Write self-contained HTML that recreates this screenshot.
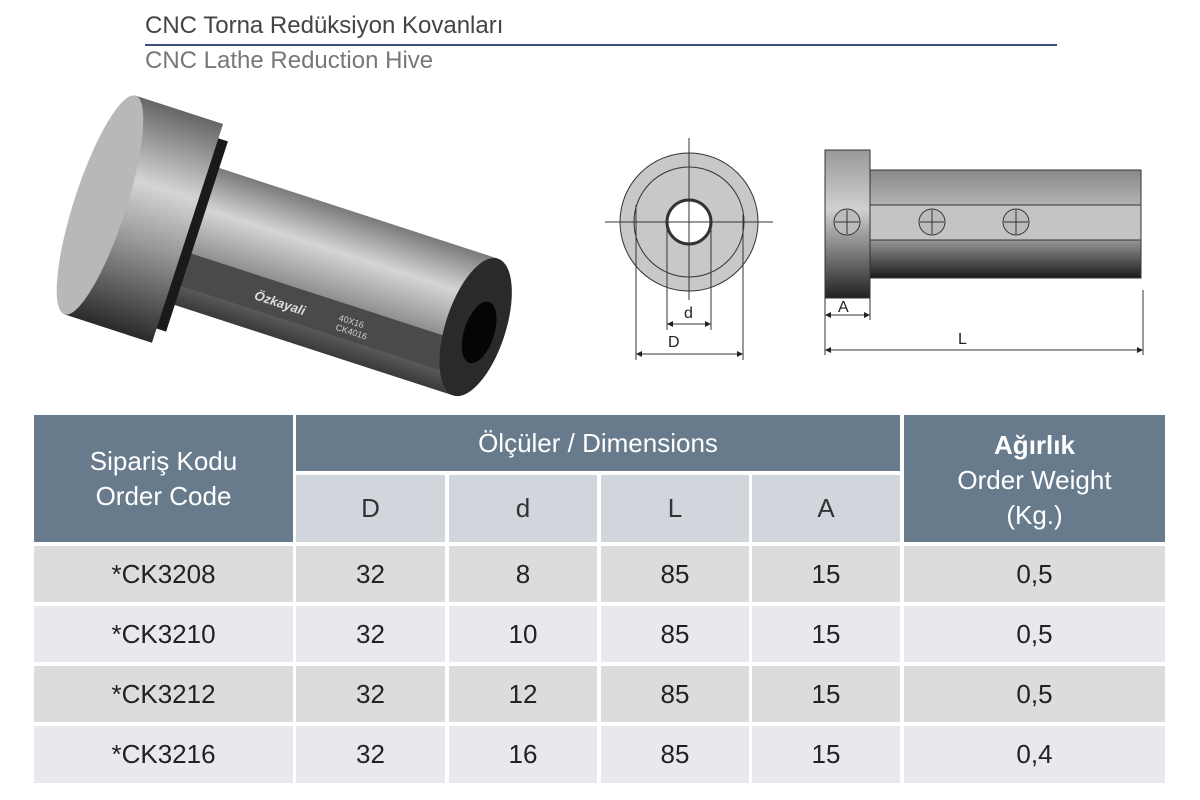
<!DOCTYPE html>
<html><head><meta charset="utf-8"><style>
*{margin:0;padding:0;box-sizing:border-box}
body{width:1200px;height:800px;background:#fff;position:relative;overflow:hidden;font-family:"Liberation Sans",sans-serif}
.c{position:absolute;display:flex;align-items:center;justify-content:center;text-align:center;color:#222;font-size:26px}
.h{background:#687b8c;color:#fff}
.s{background:#d1d5dc;color:#333}
.r1{background:#dcdcdc}
.r2{background:#e8e9ee}
</style></head><body>
<div style="position:absolute;left:145px;top:12px;font-size:24px;color:#444;">CNC Torna Redüksiyon Kovanları</div>
<div style="position:absolute;left:145px;top:44px;width:912px;height:2px;background:#3d4f7a"></div>
<div style="position:absolute;left:145px;top:47px;font-size:24px;color:#777;font-weight:300">CNC Lathe Reduction Hive</div>

<svg style="position:absolute;left:0;top:0" width="1200" height="410">
<defs>
<linearGradient id="gb" x1="0" y1="0" x2="0" y2="1">
<stop offset="0" stop-color="#7a7a7a"/><stop offset="0.3" stop-color="#d5d5d5"/><stop offset="0.55" stop-color="#a0a0a0"/><stop offset="1" stop-color="#3a3a3a"/></linearGradient>
<linearGradient id="gc" x1="0" y1="0" x2="0" y2="1">
<stop offset="0" stop-color="#666"/><stop offset="0.35" stop-color="#d5d5d5"/><stop offset="0.6" stop-color="#999"/><stop offset="1" stop-color="#2a2a2a"/></linearGradient>
<linearGradient id="gs" x1="0" y1="0" x2="0" y2="1">
<stop offset="0" stop-color="#999"/><stop offset="0.4" stop-color="#d0d0d0"/><stop offset="1" stop-color="#222"/></linearGradient>
<linearGradient id="gs2" x1="0" y1="0" x2="0" y2="1">
<stop offset="0" stop-color="#888"/><stop offset="0.5" stop-color="#ccc"/><stop offset="1" stop-color="#1a1a1a"/></linearGradient>
<marker id="ar" viewBox="0 0 10 10" refX="10" refY="5" markerWidth="8" markerHeight="6" orient="auto-start-reverse"><path d="M0 0L10 5L0 10z" fill="#222"/></marker>
</defs>
<!-- product photo -->
<g transform="translate(100,205) rotate(18)">
<rect x="100" y="-72" width="295" height="144" fill="url(#gb)"/>
<rect x="100" y="18" width="295" height="34" fill="#4a4a4a"/>
<ellipse cx="395" cy="0" rx="30" ry="72" fill="#2a2a2a"/>
<ellipse cx="400" cy="4" rx="15" ry="32" fill="#050505"/>
<rect x="90" y="-100" width="12" height="200" fill="#1a1a1a"/>
<rect x="0" y="-115" width="92" height="230" fill="url(#gc)"/>
<ellipse cx="0" cy="0" rx="26" ry="115" fill="#b8b8b8"/>
<text x="175" y="42" font-size="13" fill="#ddd" font-weight="bold" font-style="italic">Özkayali</text>
<text x="262" y="36" font-size="9" fill="#ccc">40X16</text>
<text x="262" y="46" font-size="9" fill="#ccc">CK4016</text>
</g>
<!-- front view -->
<g stroke="#333" stroke-width="1" fill="none">
<circle cx="689" cy="222" r="69" fill="#c8c8c8"/>
<circle cx="689" cy="222" r="55"/>
<circle cx="689" cy="222" r="22" fill="#fff" stroke-width="3"/>
<line x1="689" y1="138" x2="689" y2="300"/><line x1="605" y1="222" x2="773" y2="222"/>
<line x1="667" y1="222" x2="667" y2="330"/><line x1="711" y1="222" x2="711" y2="330"/>
<line x1="667" y1="324" x2="711" y2="324" marker-start="url(#ar)" marker-end="url(#ar)"/>
<line x1="636" y1="205" x2="636" y2="360"/><line x1="743" y1="215" x2="743" y2="360"/>
<line x1="636" y1="354" x2="743" y2="354" marker-start="url(#ar)" marker-end="url(#ar)"/>
<!-- side view -->
<rect x="825" y="170" width="316" height="108" fill="url(#gs2)"/>
<rect x="870" y="205" width="271" height="35" fill="#c4c4c4"/>
<rect x="825" y="150" width="45" height="148" fill="url(#gs)"/>
<circle cx="847" cy="222" r="13" fill="#bbb"/><circle cx="932" cy="222" r="13" fill="#bbb"/><circle cx="1016" cy="222" r="13" fill="#bbb"/>
<path d="M847 210v24M835 222h24M932 210v24M920 222h24M1016 210v24M1004 222h24"/>
<line x1="825" y1="298" x2="825" y2="355"/><line x1="870" y1="298" x2="870" y2="320"/><line x1="1143" y1="290" x2="1143" y2="355"/>
<line x1="825" y1="315" x2="870" y2="315" marker-start="url(#ar)" marker-end="url(#ar)"/><line x1="825" y1="350" x2="1143" y2="350" marker-start="url(#ar)" marker-end="url(#ar)"/>
</g>
<g fill="#222" font-size="16">
<text x="684" y="318">d</text><text x="668" y="347">D</text><text x="838" y="312">A</text><text x="958" y="344">L</text>
</g>
</svg>

<div class="c h" style="left:34px;top:415px;width:259px;height:127px;flex-direction:column;line-height:35px">Sipariş Kodu<br>Order Code</div>
<div class="c h" style="left:296px;top:415px;width:604px;height:56px">Ölçüler / Dimensions</div>
<div class="c h" style="left:904px;top:415px;width:261px;height:127px;line-height:35px;padding-top:4px"><span><b>Ağırlık</b><br>Order Weight<br>(Kg.)</span></div>
<div class="c s" style="left:296px;top:475px;width:149px;height:67px">D</div>
<div class="c s" style="left:449px;top:475px;width:148px;height:67px">d</div>
<div class="c s" style="left:601px;top:475px;width:148px;height:67px">L</div>
<div class="c s" style="left:752px;top:475px;width:148px;height:67px">A</div>

<div class="c r1" style="left:34px;top:546px;width:259px;height:56px">*CK3208</div>
<div class="c r1" style="left:296px;top:546px;width:149px;height:56px">32</div>
<div class="c r1" style="left:449px;top:546px;width:148px;height:56px">8</div>
<div class="c r1" style="left:601px;top:546px;width:148px;height:56px">85</div>
<div class="c r1" style="left:752px;top:546px;width:148px;height:56px">15</div>
<div class="c r1" style="left:904px;top:546px;width:261px;height:56px">0,5</div>

<div class="c r2" style="left:34px;top:606px;width:259px;height:56px">*CK3210</div>
<div class="c r2" style="left:296px;top:606px;width:149px;height:56px">32</div>
<div class="c r2" style="left:449px;top:606px;width:148px;height:56px">10</div>
<div class="c r2" style="left:601px;top:606px;width:148px;height:56px">85</div>
<div class="c r2" style="left:752px;top:606px;width:148px;height:56px">15</div>
<div class="c r2" style="left:904px;top:606px;width:261px;height:56px">0,5</div>

<div class="c r1" style="left:34px;top:666px;width:259px;height:56px">*CK3212</div>
<div class="c r1" style="left:296px;top:666px;width:149px;height:56px">32</div>
<div class="c r1" style="left:449px;top:666px;width:148px;height:56px">12</div>
<div class="c r1" style="left:601px;top:666px;width:148px;height:56px">85</div>
<div class="c r1" style="left:752px;top:666px;width:148px;height:56px">15</div>
<div class="c r1" style="left:904px;top:666px;width:261px;height:56px">0,5</div>

<div class="c r2" style="left:34px;top:726px;width:259px;height:57px">*CK3216</div>
<div class="c r2" style="left:296px;top:726px;width:149px;height:57px">32</div>
<div class="c r2" style="left:449px;top:726px;width:148px;height:57px">16</div>
<div class="c r2" style="left:601px;top:726px;width:148px;height:57px">85</div>
<div class="c r2" style="left:752px;top:726px;width:148px;height:57px">15</div>
<div class="c r2" style="left:904px;top:726px;width:261px;height:57px">0,4</div>
</body></html>
